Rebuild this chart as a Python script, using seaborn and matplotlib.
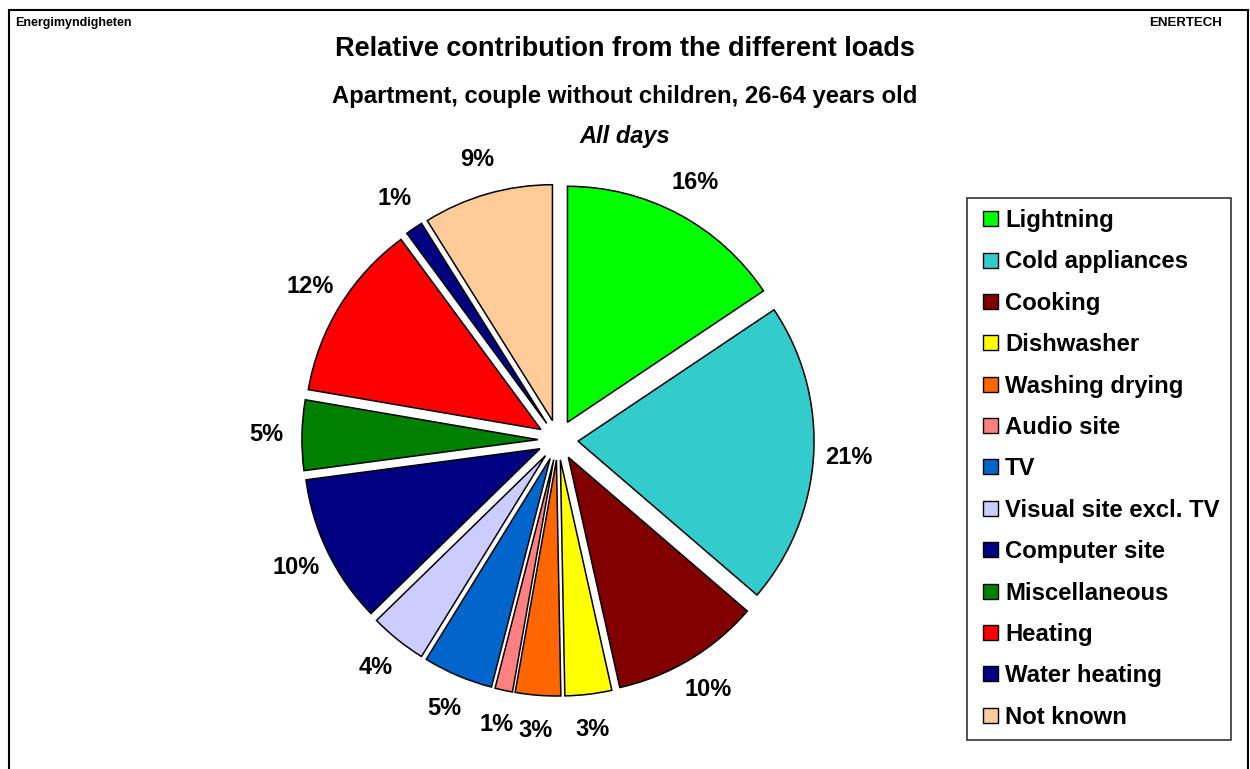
import matplotlib
matplotlib.use("Agg")
import matplotlib.pyplot as plt
import seaborn as sns
from matplotlib.patches import Rectangle, Patch
from matplotlib.legend_handler import HandlerPatch

# data (share of total, %)
loads = ["Lightning", "Cold appliances", "Cooking", "Dishwasher", "Washing drying",
         "Audio site", "TV", "Visual site excl. TV", "Computer site", "Miscellaneous",
         "Heating", "Water heating", "Not known"]
shares = [15.6, 20.7, 10.2, 3.2, 3.1, 1.2, 4.8, 3.9, 10.2, 4.8, 12.2, 1.2, 8.9]
hex_colors = ["#00FF00", "#33CCCC", "#800000", "#FFFF00", "#FF6600", "#FF8080", "#0066CC",
              "#CCCCFF", "#000080", "#008000", "#FF0000", "#000080", "#FFCC99"]

sns.set_style("white")
plt.rcParams["font.family"] = ["Liberation Sans", "DejaVu Sans"]
plt.rcParams["text.color"] = "black"
palette = sns.color_palette(hex_colors)

W, H = 1250, 769
fig = plt.figure(figsize=(12.5, 7.69), dpi=100)

# square axes: 236 px per data unit, pie centre near (558, 440) px
ppu = 236
lim = 1.4
side = 2 * lim * ppu
cx, cy = 558, 440
ax = fig.add_axes([(cx - side / 2) / W, (H - cy - side / 2) / H, side / W, side / H])

wedges, texts, autotexts = ax.pie(
    shares, colors=palette, startangle=90, counterclock=False,
    explode=[0.085] * len(shares), autopct="%1.0f%%", pctdistance=1.15,
    wedgeprops=dict(edgecolor="black", linewidth=1.1),
    textprops=dict(fontsize=17, fontweight="bold", color="black"),
)
ax.set_xlim(-lim, lim)
ax.set_ylim(-lim, lim)
ax.set_aspect("equal")
ax.axis("off")

# titles
fig.text(0.5, 1 - 49 / H, "Relative contribution from the different loads",
         ha="center", va="center", fontsize=19.5, fontweight="bold")
fig.text(0.5, 1 - 97 / H, "Apartment, couple without children, 26-64 years old",
         ha="center", va="center", fontsize=17.2, fontweight="bold")
fig.text(0.5, 1 - 137 / H, "All days", ha="center", va="center",
         fontsize=17, fontweight="bold", style="italic")
fig.text(15 / W, 1 - 23 / H, "Energimyndigheten", ha="left", va="center",
         fontsize=9, fontweight="bold")
fig.text(1222 / W, 1 - 23 / H, "ENERTECH", ha="right", va="center",
         fontsize=9.5, fontweight="bold")

# outer frame
fig.patches.append(Rectangle((8.5 / W, -0.05), (1248 - 8.5) / W, 1.05 - 10 / H,
                             transform=fig.transFigure, fill=False,
                             edgecolor="black", linewidth=1.5))


def square_patch(legend, orig_handle, xdescent, ydescent, width, height, fontsize):
    s = 15 * 72 / 100  # 15 px square, handle box works in points
    return Rectangle((-xdescent + width - s, -ydescent + (height - s) / 2), s, s)


handles = [Patch(facecolor=c, edgecolor="black", linewidth=1) for c in palette]
leg = fig.legend(handles, loads, loc="upper left",
                 bbox_to_anchor=(967 / W, 1 - 198 / H),
                 prop=dict(size=17.2, weight="bold"), frameon=True, fancybox=False,
                 handlelength=0.85, handleheight=0.7, handletextpad=0.29,
                 labelspacing=0.77, borderpad=0.46, borderaxespad=0,
                 handler_map={Patch: HandlerPatch(patch_func=square_patch)})
leg.get_frame().set_edgecolor("black")
leg.get_frame().set_linewidth(1.2)

fig.savefig("out.png", dpi=100)
